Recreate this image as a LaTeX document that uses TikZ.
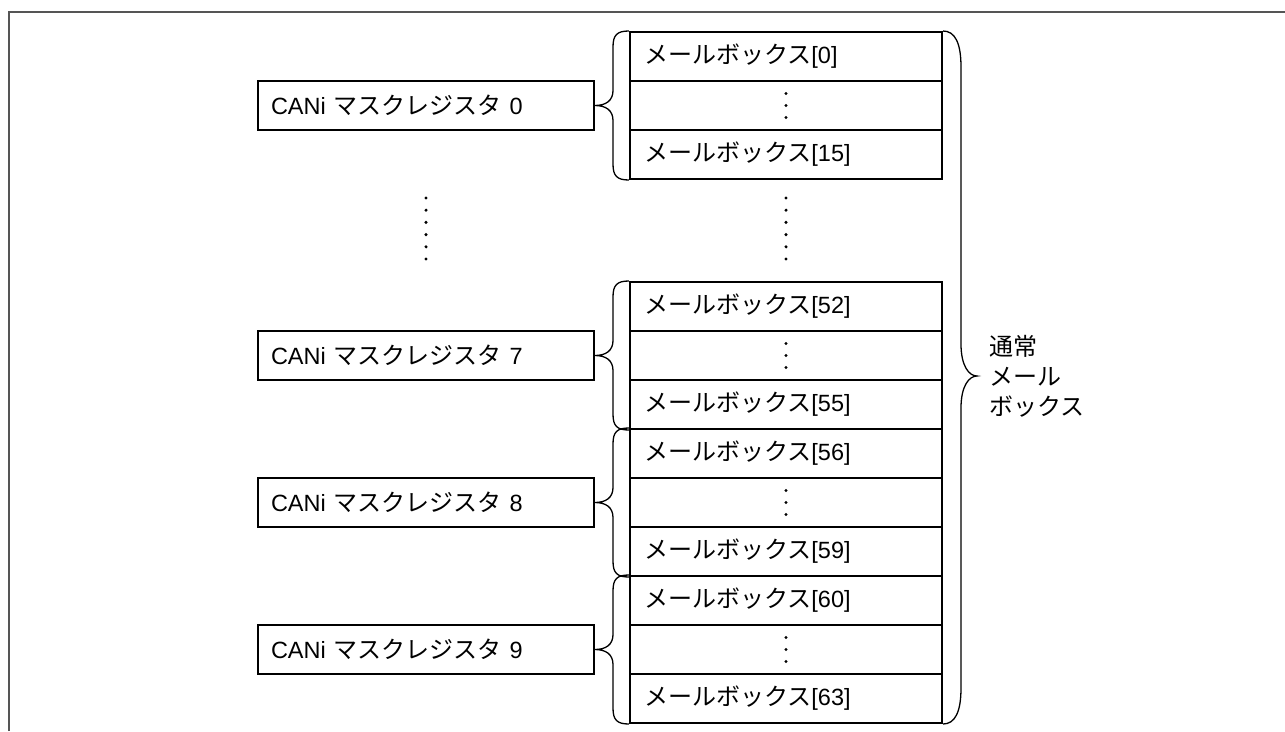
\documentclass[tikz,border=0pt]{standalone}
\usepackage{fontspec}
\setmainfont{Liberation Sans}
\newfontfamily\jp[Scale=1.022]{Noto Sans CJK JP}
\usetikzlibrary{calc}
\newcommand\fs{\fontsize{23.5}{30}\selectfont}
\begin{document}
\begin{tikzpicture}[x=1pt,y=-1pt,
  mbox/.style={draw,line width=2pt,minimum height=49pt,inner xsep=14pt,inner ysep=0pt,
    anchor=north west,text width=284pt,align=left,font=\fs},
  rbox/.style={draw,line width=2pt,minimum height=49pt,inner xsep=13pt,inner ysep=0pt,
    anchor=north west,text width=310pt,align=left,font=\fs},
  brace/.style={draw,line width=1.3pt},
  dotmark/.style={fill=black},
  framecol/.style={draw={rgb,255:red,85;green,85;blue,85},line width=2pt}]
\useasboundingbox (0,0) rectangle (1285,731);
\draw[framecol] (9,731) -- (9,12) -- (1285,12);

% mailbox rows
\node[mbox] (m0)  at (629,31)  {{\jp メールボックス}[0]};
\node[mbox] (d0)  at (629,80)  {};
\node[mbox] (m15) at (629,129) {{\jp メールボックス}[15]};
\node[mbox] (m52) at (629,281) {{\jp メールボックス}[52]};
\node[mbox] (d7)  at (629,330) {};
\node[mbox] (m55) at (629,379) {{\jp メールボックス}[55]};
\node[mbox] (m56) at (629,428) {{\jp メールボックス}[56]};
\node[mbox] (d8)  at (629,477) {};
\node[mbox] (m59) at (629,526) {{\jp メールボックス}[59]};
\node[mbox] (m60) at (629,575) {{\jp メールボックス}[60]};
\node[mbox] (d9)  at (629,624) {};
\node[mbox] (m63) at (629,673) {{\jp メールボックス}[63]};

% register boxes
\node[rbox] (r0) at (257,80)  {CANi {\jp マスクレジスタ} 0};
\node[rbox] (r7) at (257,330) {CANi {\jp マスクレジスタ} 7};
\node[rbox] (r8) at (257,477) {CANi {\jp マスクレジスタ} 8};
\node[rbox] (r9) at (257,624) {CANi {\jp マスクレジスタ} 9};

% dots in rows
\foreach \n in {d0,d7,d8,d9}
  \foreach \d in {-12,0,12}
    \fill[dotmark] ([yshift=\d pt]\n.center) circle (1.7pt);

% dots in the gap
\foreach \i in {0,...,5}{
  \fill[dotmark] (r0.center |- 0,{198+12.2*\i}) circle (1.7pt);
  \fill[dotmark] (m0.center |- 0,{198+12.2*\i}) circle (1.7pt);
}

% group braces
\newcommand\grpbrace[3]{%
  \draw[brace] let \p1=(#1.north west), \p2=(#2.south west), \p3=(#3.east) in
    (\p1) .. controls (\x3+22pt,\y1) and (\x3+18pt,\y1-4pt) .. (\x3+18pt,\y1-16pt)
    -- (\x3+18pt,\y3+15pt) .. controls (\x3+18pt,\y3+5pt) and (\x3+11pt,\y3) .. (\p3)
    .. controls (\x3+11pt,\y3) and (\x3+18pt,\y3-5pt) .. (\x3+18pt,\y3-15pt)
    -- (\x3+18pt,\y2+16pt) .. controls (\x3+18pt,\y2+4pt) and (\x3+22pt,\y2) .. (\p2);}
\grpbrace{m0}{m15}{r0}
\grpbrace{m52}{m55}{r7}
\grpbrace{m56}{m59}{r8}
\grpbrace{m60}{m63}{r9}

% big brace and its label
\node[font=\fs,align=left,inner sep=0pt,anchor=west] (nb) at (989,376)
  {\jp 通常\\\jp メール\\\jp ボックス};
\draw[brace] let \p1=(m0.north east), \p2=(m63.south east), \p3=($(nb.west)+(-12,0)$) in
  (\p1) .. controls (\x1+12pt,\y1) and (\x1+18pt,\y1-12pt) .. (\x1+18pt,\y1-36pt)
  -- (\x1+18pt,\y3+32pt) .. controls (\x1+18pt,\y3+10pt) and (\x1+26pt,\y3) .. (\p3)
  .. controls (\x1+26pt,\y3) and (\x1+18pt,\y3-10pt) .. (\x1+18pt,\y3-32pt)
  -- (\x1+18pt,\y2+36pt) .. controls (\x1+18pt,\y2+12pt) and (\x1+12pt,\y2) .. (\p2);
\end{tikzpicture}
\end{document}
